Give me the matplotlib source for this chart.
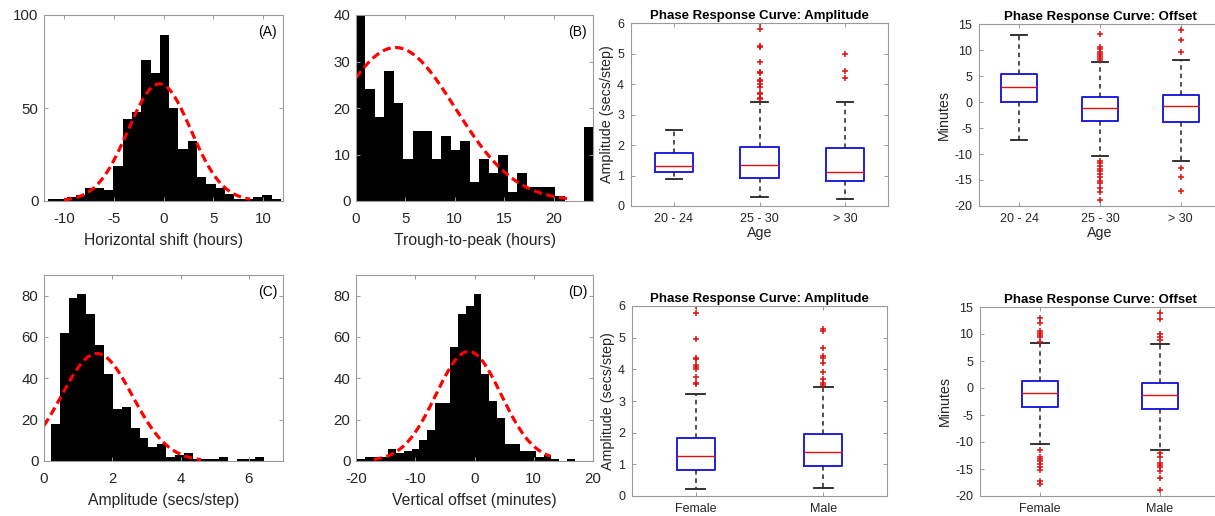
import numpy as np
import matplotlib.pyplot as plt

plt.rcParams['font.family'] = ['Liberation Sans', 'DejaVu Sans']
plt.rcParams['axes.unicode_minus'] = False

# histogram data: (first edge, last edge), bin counts, fitted normal (mean, sd, peak), fit x-range
shift_range = (-11.6, 11.8)
shift_counts = [1, 1, 2, 3, 7, 7, 6, 19, 44, 48, 76, 69, 89, 50, 28, 32, 13, 9, 7, 4, 1, 1, 2, 3, 1]
shift_fit = (-0.4, 3.15, 63)
shift_fit_x = (-10, 8.7)

peak_range = (0, 24)
peak_counts = [40, 24, 18, 28, 21, 9, 15, 15, 9, 14, 11, 13, 4, 9, 6, 10, 2, 6, 3, 3, 3, 1, 0, 0, 16]
peak_fit = (4.0, 6.04, 33)
peak_fit_x = (0, 21.5)

amp_range = (0.2, 6.44)
amp_counts = [18, 62, 79, 81, 71, 56, 42, 25, 26, 16, 11, 7, 8, 2, 3, 4, 1, 1, 1, 2, 0, 1, 1, 2]
amp_fit = (1.55, 1.04, 52)
amp_fit_x = (0, 4.6)

off_range = (-19.8, 16.9)
off_counts = [1, 2, 2, 2, 6, 4, 5, 6, 10, 15, 28, 28, 55, 71, 75, 81, 42, 29, 21, 8, 8, 5, 5, 2, 3, 1, 0, 1]
off_fit = (-1.0, 5.5, 53)
off_fit_x = (-17, 12.8)

# box plot data
age_groups = ['20 - 24', '25 - 30', '> 30']
sex_groups = ['Female', 'Male']

amp_age_lo = [0.88, 0.29, 0.24]
amp_age_q1 = [1.12, 0.93, 0.81]
amp_age_med = [1.32, 1.36, 1.12]
amp_age_q3 = [1.75, 1.93, 1.91]
amp_age_hi = [2.50, 3.40, 3.40]
amp_age_out = [[],
               [3.50, 3.55, 3.67, 3.72, 3.90, 4.00, 4.10, 4.13, 4.35, 4.39, 4.71, 5.20, 5.23, 5.80, 6.00],
               [4.19, 4.44, 4.98]]

off_age_lo = [-7.4, -10.3, -11.4]
off_age_q1 = [0.0, -3.7, -3.75]
off_age_med = [2.9, -1.2, -0.7]
off_age_q3 = [5.4, 0.9, 1.35]
off_age_hi = [12.9, 7.6, 8.1]
off_age_out = [[],
               [8.1, 8.4, 8.8, 9.3, 9.7, 10.2, 10.6, 13.0,
                -11.3, -11.8, -12.4, -12.8, -13.3, -13.9, -14.4, -15.1, -15.6, -16.5, -17.4, -18.8],
               [9.7, 12.0, 13.8, -12.7, -14.4, -17.2]]

amp_sex_lo = [0.22, 0.26]
amp_sex_q1 = [0.82, 0.96]
amp_sex_med = [1.27, 1.38]
amp_sex_q3 = [1.84, 1.97]
amp_sex_hi = [3.23, 3.45]
amp_sex_out = [[3.53, 3.58, 3.75, 4.00, 4.08, 4.14, 4.33, 4.37, 4.96, 5.79, 5.99],
               [3.50, 3.58, 3.68, 3.91, 4.19, 4.35, 4.43, 4.68, 5.21, 5.26]]

off_sex_lo = [-10.4, -11.5]
off_sex_q1 = [-3.55, -3.98]
off_sex_med = [-1.0, -1.27]
off_sex_q3 = [1.3, 0.9]
off_sex_hi = [8.3, 8.1]
off_sex_out = [[8.6, 9.45, 9.76, 10.2, 10.56, 12.0, 13.0,
                -11.4, -12.7, -13.2, -13.6, -14.0, -14.6, -15.2, -17.2, -17.7],
               [8.96, 9.45, 9.95, 12.8, 13.8,
                -12.0, -12.7, -13.8, -14.3, -14.6, -15.4, -16.7, -18.8]]

W, H = 1215, 516
fig = plt.figure(figsize=(W / 100, H / 100), dpi=100)


def add_ax(left, right, top, bottom):
    return fig.add_axes([left / W, 1 - bottom / H, (right - left) / W, (bottom - top) / H])


def style(ax, fs, xpad, ypad):
    for s in ax.spines.values():
        s.set_color('#9a9a9a')
        s.set_linewidth(0.8)
    ax.tick_params(direction='in', length=3, width=0.7, color='#9a9a9a',
                   labelsize=fs, labelcolor='#262626', top=True, right=True)
    ax.tick_params(axis='x', pad=xpad)
    ax.tick_params(axis='y', pad=ypad)


def hist_panel(ax, rng, counts, fit, fit_x, xlim, ylim, xticks, yticks, xlabel, tag):
    edges = np.linspace(rng[0], rng[1], len(counts) + 1)
    ax.stairs(counts, edges, fill=True, color='black')
    mu, sd, pk = fit
    xs = np.linspace(fit_x[0], fit_x[1], 200)
    ax.plot(xs, pk * np.exp(-(xs - mu) ** 2 / (2 * sd ** 2)), color='red',
            lw=2.3, dashes=(2.6, 1.4))
    ax.set_xlim(xlim)
    ax.set_ylim(ylim)
    ax.set_xticks(xticks)
    ax.set_yticks(yticks)
    ax.set_xlabel(xlabel, fontsize=11.3, color='#262626', labelpad=5)
    ax.text(0.975, 0.91, tag, transform=ax.transAxes, ha='right', va='center', fontsize=10)
    style(ax, 10.8, 8, 4)


def box_panel(ax, groups, lo, q1, med, q3, hi, out, yl, yticks, title, ylabel, xlabel, bw, cw):
    stats = []
    for i in range(len(groups)):
        stats.append(dict(whislo=lo[i], q1=q1[i], med=med[i], q3=q3[i], whishi=hi[i],
                          fliers=out[i], label=groups[i]))
    ax.bxp(stats, widths=bw, capwidths=cw,
           boxprops=dict(color='#1f1fe0', lw=1.4),
           medianprops=dict(color='#e01010', lw=1.0),
           whiskerprops=dict(color='#222222', lw=1.1, linestyle=(0, (3, 2.5))),
           capprops=dict(color='#222222', lw=1.3),
           flierprops=dict(marker='+', markeredgecolor='#e01010', markersize=4.5, markeredgewidth=1.1))
    ax.set_xlim(0.5, len(groups) + 0.5)
    ax.set_ylim(yl)
    ax.set_yticks(yticks)
    ax.set_title(title, fontsize=9.5, fontweight='bold', pad=3)
    ax.set_ylabel(ylabel, fontsize=10.3, color='#262626', labelpad=2)
    if xlabel:
        ax.set_xlabel(xlabel, fontsize=10.3, color='#262626', labelpad=1)
    style(ax, 9, 5, 5)


axA = add_ax(44, 283, 15, 201)
hist_panel(axA, shift_range, shift_counts, shift_fit, shift_fit_x, (-12, 12), (0, 100),
           [-10, -5, 0, 5, 10], [0, 50, 100], 'Horizontal shift (hours)', '(A)')
axB = add_ax(356, 593, 15, 201)
hist_panel(axB, peak_range, peak_counts, peak_fit, peak_fit_x, (0, 24), (0, 40),
           [0, 5, 10, 15, 20], [0, 10, 20, 30, 40], 'Trough-to-peak (hours)', '(B)')
axC = add_ax(44, 283, 275, 461)
hist_panel(axC, amp_range, amp_counts, amp_fit, amp_fit_x, (0, 7), (0, 90),
           [0, 2, 4, 6], [0, 20, 40, 60, 80], 'Amplitude (secs/step)', '(C)')
axD = add_ax(356, 593, 275, 461)
hist_panel(axD, off_range, off_counts, off_fit, off_fit_x, (-20, 20), (0, 90),
           [-20, -10, 0, 10, 20], [0, 20, 40, 60, 80], 'Vertical offset (minutes)', '(D)')

axE = add_ax(631, 888, 23, 206)
box_panel(axE, age_groups, amp_age_lo, amp_age_q1, amp_age_med, amp_age_q3, amp_age_hi, amp_age_out,
          (0, 6), range(0, 7), 'Phase Response Curve: Amplitude', 'Amplitude (secs/step)', 'Age', 0.45, 0.19)
axF = add_ax(979, 1221, 24, 206)
box_panel(axF, age_groups, off_age_lo, off_age_q1, off_age_med, off_age_q3, off_age_hi, off_age_out,
          (-20, 15), range(-20, 16, 5), 'Phase Response Curve: Offset', 'Minutes', 'Age', 0.45, 0.2)
axG = add_ax(632, 887, 306, 496)
box_panel(axG, sex_groups, amp_sex_lo, amp_sex_q1, amp_sex_med, amp_sex_q3, amp_sex_hi, amp_sex_out,
          (0, 6), range(0, 7), 'Phase Response Curve: Amplitude', 'Amplitude (secs/step)', None, 0.3, 0.15)
axH = add_ax(980, 1220, 307, 496)
box_panel(axH, sex_groups, off_sex_lo, off_sex_q1, off_sex_med, off_sex_q3, off_sex_hi, off_sex_out,
          (-20, 15), range(-20, 16, 5), 'Phase Response Curve: Offset', 'Minutes', None, 0.3, 0.145)

fig.savefig('out.png', dpi=100)
